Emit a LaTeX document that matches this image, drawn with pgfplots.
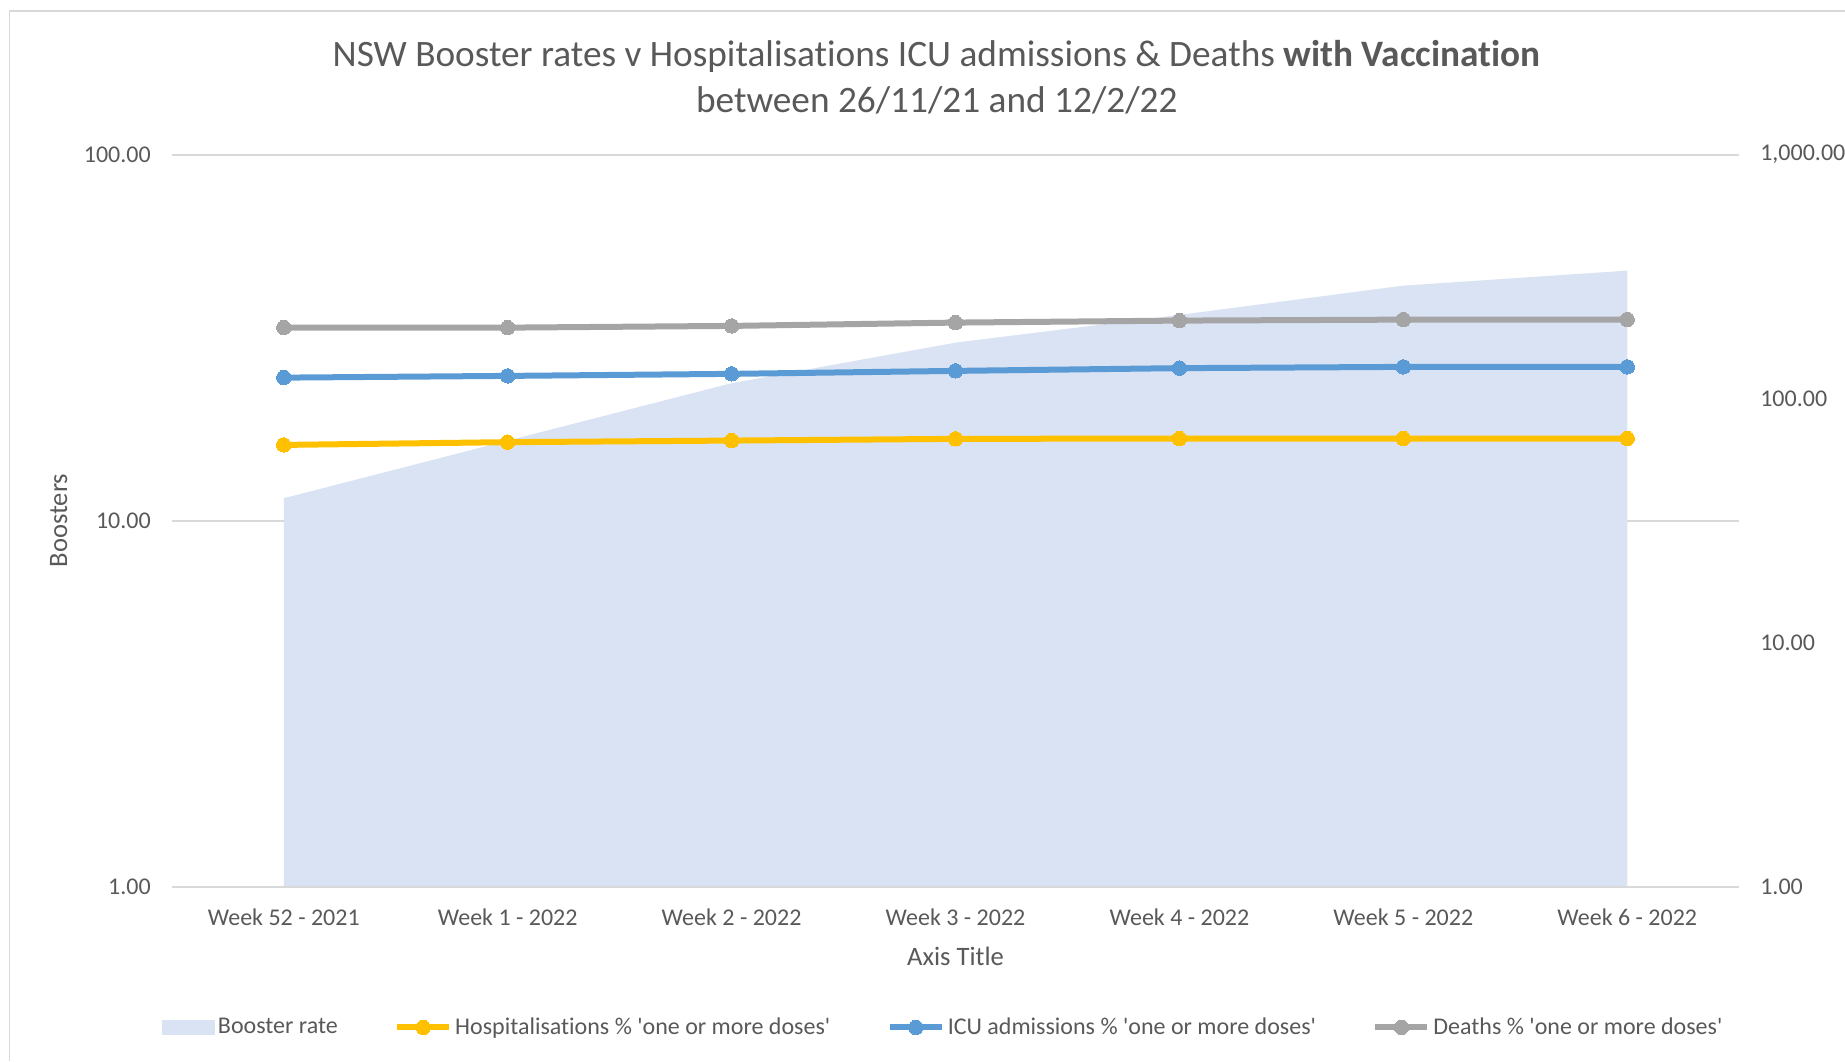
\documentclass[border=0pt]{standalone}
\usepackage{fontspec}
\setmainfont{Carlito}[Ligatures={NoCommon}]
\usepackage{pgfplots}
\pgfplotsset{compat=1.18}
\definecolor{txt}{HTML}{595959}
\definecolor{gridc}{HTML}{D9D9D9}
\definecolor{areac}{HTML}{DAE3F3}
\definecolor{hosp}{HTML}{FFC000}
\definecolor{icu}{HTML}{5B9BD5}
\definecolor{death}{HTML}{A5A5A5}
\newcommand{\sq}{\textquotesingle}
\begin{document}
\begin{tikzpicture}
\useasboundingbox (0,0) rectangle (922.5pt,530.5pt);
\draw[gridc, line width=0.8pt] (4.7pt,0) -- (4.7pt,525pt) -- (922.5pt,525pt);
\node[align=center, text=txt, font=\fontsize{18.65}{23}\selectfont] at (468.4pt,492pt)
 {NSW Booster rates v Hospitalisations ICU admissions \& Deaths \textbf{with Vaccination}\\between 26/11/21 and 12/2/22};
\begin{axis}[
 at={(85.9pt,87.2pt)}, anchor=south west,
 scale only axis, width=783.7pt, height=366pt,
 xmin=-0.5, xmax=6.5, ymode=log, ymin=1, ymax=100,
 xtick={0,1,2,3,4,5,6},
 xticklabels={Week 52 - 2021, Week 1 - 2022, Week 2 - 2022, Week 3 - 2022, Week 4 - 2022, Week 5 - 2022, Week 6 - 2022},
 ytick={1,10,100}, yticklabels={1.00,10.00,100.00},
 minor ytick={}, yminorticks=false,
 axis line style={draw=none}, major tick length=0pt,
 ymajorgrids, grid style={gridc, line width=1pt},
 tick label style={font=\fontsize{12}{14}\selectfont, text=txt},
 yticklabel style={xshift=-7pt},
 xticklabel style={yshift=-7.5pt},
 /pgf/number format/assume math mode=true,
 ylabel={Boosters}, xlabel={Axis Title},
 label style={font=\fontsize{13.3}{15}\selectfont, text=txt},
 xlabel style={at={([yshift=-35pt]axis description cs:0.5,0)}, anchor=center},
 ylabel style={at={([xshift=-56.5pt]axis description cs:0,0.5)}, anchor=center},
]
\addplot[fill=areac, draw=none] coordinates {(0,1) (0,11.51) (1,16.54) (2,23.74) (3,30.64) (4,36.48) (5,43.86) (6,48.2) (6,1)};
\draw[gridc, line width=1pt] (axis cs:-0.5,1) -- (axis cs:6.5,1);
\end{axis}
\begin{axis}[
 at={(85.9pt,87.2pt)}, anchor=south west,
 scale only axis, width=783.7pt, height=366pt,
 xmin=-0.5, xmax=6.5, ymode=log, ymin=1, ymax=1000,
 axis x line=none, axis y line*=right, y axis line style={draw=none},
 major tick length=0pt, minor ytick={}, yminorticks=false,
 ytick={1,10,100,1000}, yticklabels={1.00,10.00,100.00,{1,000.00}},
 tick label style={font=\fontsize{12}{14}\selectfont, text=txt},
 yticklabel style={xshift=7pt},
 /pgf/number format/assume math mode=true,
 legend image code/.code={\draw[mark repeat=2,mark phase=2,#1] plot coordinates {(0pt,0pt) (13pt,0pt) (26pt,0pt)};},
 legend style={at={([xshift=1.5pt]axis description cs:0.4906,-0.1923)}, anchor=center, draw=none, fill=none,
   legend columns=4, font=\fontsize{12}{14}\selectfont, text=txt,
   nodes={inner sep=1.5pt},
   /tikz/every even column/.append style={column sep=26.7pt}},
]
\addlegendimage{legend image code/.code={\fill[areac] (0pt,-3.5pt) rectangle (26pt,3.5pt);}}
\addlegendentry{Booster rate}
\addplot[hosp, line width=3pt, mark=*, mark size=3.6pt, mark options={solid, fill=hosp, draw=hosp, line width=0pt}]
 coordinates {(0,64.6) (1,66.3) (2,67.3) (3,68.4) (4,68.6) (5,68.6) (6,68.6)};
\addlegendentry{Hospitalisations \% \sq one or more doses\sq}
\addplot[icu, line width=3pt, mark=*, mark size=3.6pt, mark options={solid, fill=icu, draw=icu, line width=0pt}]
 coordinates {(0,121.9) (1,123.9) (2,126.3) (3,129.9) (4,133.3) (5,134.9) (6,134.9)};
\addlegendentry{ICU admissions \% \sq one or more doses\sq}
\addplot[death, line width=3pt, mark=*, mark size=3.6pt, mark options={solid, fill=death, draw=death, line width=0pt}]
 coordinates {(0,195.4) (1,195.4) (2,198.6) (3,204.9) (4,208.8) (5,210.7) (6,210.7)};
\addlegendentry{Deaths \% \sq one or more doses\sq}
\end{axis}
\end{tikzpicture}
\end{document}
